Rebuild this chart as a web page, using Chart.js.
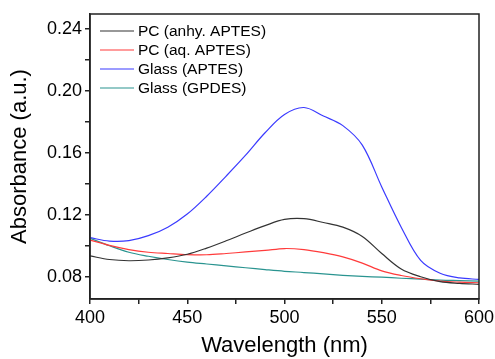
<!DOCTYPE html>
<html>
<head>
<meta charset="utf-8">
<title>Absorbance spectra</title>
<script src="https://cdn.jsdelivr.net/npm/chart.js@4.4.1/dist/chart.umd.min.js"></script>
<style>
    html, body { margin: 0; padding: 0; background: #fff; }
    #chart { display: block; }
</style>
</head>
<body>
<canvas id="chart" width="495" height="359"></canvas>
<script>
// data, every 10 nm
var wavelengths = [400, 410, 420, 430, 440, 450, 460, 470, 480, 490, 500, 510, 520, 530, 540, 550, 560, 570, 580, 590, 600];
var pcAnhy     = [0.0934, 0.0911, 0.0903, 0.0908, 0.0922, 0.0945, 0.0985, 0.1032, 0.1082, 0.1130, 0.1170, 0.1175, 0.1150, 0.1120, 0.1060, 0.0950, 0.0850, 0.0800, 0.0768, 0.0757, 0.0751];
var pcAq       = [0.1037, 0.1002, 0.0975, 0.0958, 0.0950, 0.0943, 0.0942, 0.0950, 0.0960, 0.0970, 0.0982, 0.0975, 0.0955, 0.0928, 0.0888, 0.0838, 0.0808, 0.0787, 0.0772, 0.0765, 0.0761];
var glassAptes = [0.1052, 0.1030, 0.1033, 0.1065, 0.1120, 0.1205, 0.1320, 0.1450, 0.1585, 0.1730, 0.1848, 0.1893, 0.1838, 0.1776, 0.1650, 0.1380, 0.1120, 0.0905, 0.0822, 0.0792, 0.0783];
var glassGpdes = [0.1048, 0.1000, 0.0958, 0.0932, 0.0911, 0.0894, 0.0882, 0.0870, 0.0858, 0.0846, 0.0835, 0.0827, 0.0818, 0.0809, 0.0802, 0.0797, 0.0790, 0.0785, 0.0778, 0.0775, 0.0772];

var seriesNames = ['PC (anhy. APTES)', 'PC (aq. APTES)', 'Glass (APTES)', 'Glass (GPDES)'];
var seriesColors = ['#333333', '#ff3b3b', '#3a3aff', '#2a9490'];

// major ticks get a label, the rest are minor
var xTicks = [400, 425, 450, 475, 500, 525, 550, 575, 600];
var xLabels = [400, 450, 500, 550, 600];
var yTicks = [0.08, 0.10, 0.12, 0.14, 0.16, 0.18, 0.20, 0.22, 0.24];
var yLabels = ['0.08', '0.12', '0.16', '0.20', '0.24'];

var font = '"Liberation Sans", Arial, sans-serif';
var axisColor = '#222222';

function toPoints(values) {
    return values.map(function(v, i) {
        return { x: wavelengths[i], y: v };
    });
}

var allSeries = [pcAnhy, pcAq, glassAptes, glassGpdes];
var datasets = allSeries.map(function(values, i) {
    return {
        label: seriesNames[i],
        data: toPoints(values),
        borderColor: seriesColors[i],
        borderWidth: 1.2,
        pointRadius: 0,
        fill: false,
        tension: 0.35
    };
});

// box round the plot + legend inside the plot
var framePlugin = {
    id: 'frame',
    afterDraw: function(chart) {
        var ctx = chart.ctx;
        var a = chart.chartArea;
        ctx.save();
        ctx.strokeStyle = axisColor;
        ctx.lineWidth = 1.5;
        ctx.strokeRect(a.left, a.top, a.right - a.left, a.bottom - a.top);

        ctx.font = '15.5px ' + font;
        ctx.textBaseline = 'middle';
        ctx.fillStyle = '#000';
        chart.data.datasets.forEach(function(ds, i) {
            var y = a.top + 17 + i * 19;
            ctx.strokeStyle = ds.borderColor;
            ctx.lineWidth = 1.2;
            ctx.beginPath();
            ctx.moveTo(a.left + 10, y);
            ctx.lineTo(a.left + 44, y);
            ctx.stroke();
            ctx.fillText(ds.label, a.left + 48, y + 1);
        });
        ctx.restore();
    }
};

new Chart(document.getElementById('chart'), {
    type: 'line',
    data: { datasets: datasets },
    plugins: [framePlugin],
    options: {
        responsive: false,
        animation: false,
        devicePixelRatio: 1,
        layout: { padding: { top: 14, right: 16, left: 0, bottom: 0 } },
        plugins: {
            legend: { display: false },
            tooltip: { enabled: false }
        },
        scales: {
            x: {
                type: 'linear',
                min: 400,
                max: 600,
                afterBuildTicks: function(scale) {
                    scale.ticks = xTicks.map(function(v) { return { value: v }; });
                },
                afterFit: function(scale) {
                    scale.height = 60;
                    // don't let the end labels push the plot in
                    scale.paddingLeft = 0;
                    scale.paddingRight = 0;
                },
                ticks: {
                    autoSkip: false,
                    maxRotation: 0,
                    padding: 3,
                    color: '#000',
                    font: { family: font, size: 18 },
                    callback: function(v) {
                        return xLabels.indexOf(v) >= 0 ? String(v) : '';
                    }
                },
                grid: { drawOnChartArea: false, drawTicks: true, tickLength: 5, color: axisColor, lineWidth: 1.5 },
                border: { display: true, color: axisColor, width: 1.5 },
                title: {
                    display: true,
                    text: 'Wavelength (nm)',
                    color: '#000',
                    font: { family: font, size: 22 },
                    padding: { top: 0, bottom: 0 }
                }
            },
            y: {
                type: 'linear',
                min: 0.0656,
                max: 0.2497,
                afterBuildTicks: function(scale) {
                    scale.ticks = yTicks.map(function(v) { return { value: v }; });
                },
                afterFit: function(scale) { scale.width = 90; },
                ticks: {
                    autoSkip: false,
                    padding: 3,
                    color: '#000',
                    font: { family: font, size: 18 },
                    callback: function(v) {
                        var s = v.toFixed(2);
                        return yLabels.indexOf(s) >= 0 ? s : '';
                    }
                },
                grid: { drawOnChartArea: false, drawTicks: true, tickLength: 5, color: axisColor, lineWidth: 1.5 },
                border: { display: true, color: axisColor, width: 1.5 },
                title: {
                    display: true,
                    text: 'Absorbance (a.u.)',
                    color: '#000',
                    font: { family: font, size: 22 },
                    padding: { top: 7, bottom: 0 }
                }
            }
        }
    }
});
</script>
</body>
</html>
